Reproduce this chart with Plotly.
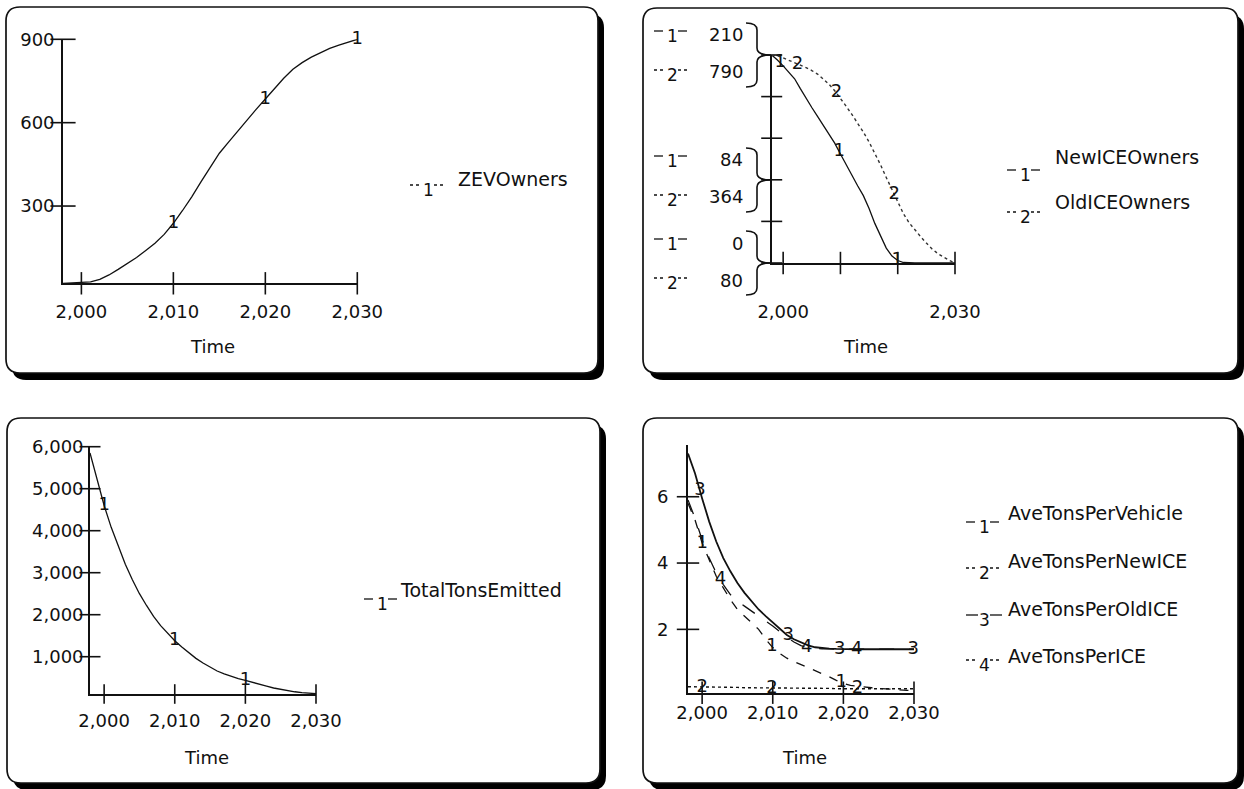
import numpy as np
import plotly.graph_objects as go

W, H = 1244, 789

# ---------------- data ----------------
years = list(range(1998, 2031))

zev_owners = [22, 23, 25, 27, 36, 52, 72, 92, 115, 140, 166, 198, 238, 284, 333, 387,
              441, 490, 530, 570, 610, 648, 685, 723, 760, 792, 816, 836, 852, 867, 879, 890, 900]

new_ice_owners = [210, 205, 199, 193, 186, 176, 166, 157, 148, 139, 130, 121, 110, 99, 89, 78,
                  68, 55, 40, 27, 15, 7, 2.5, 0.5, 0, 0, 0, 0, 0, 0, 0, 0, 0]

old_ice_owners = [790, 787, 780, 772, 763, 755, 747, 737, 725, 708, 690, 668, 643, 615, 587, 558,
                  527, 493, 455, 415, 372, 330, 287, 248, 217, 192, 170, 148, 128, 112, 99, 89, 80]

total_tons_emitted = [5850, 5200, 4600, 4080, 3620, 3200, 2830, 2500, 2220, 1960, 1740, 1550, 1380,
                      1230, 1090, 960, 850, 750, 660, 590, 530, 480, 435, 395, 350, 300, 255, 220,
                      190, 165, 145, 130, 120]

ave_tons_per_vehicle = [5.8, 5.3, 4.6, 4.1, 3.6, 3.25, 2.9, 2.6, 2.4, 2.23, 2.0, 1.7, 1.45, 1.27,
                        1.13, 1.03, 0.94, 0.85, 0.76, 0.67, 0.57, 0.46, 0.37, 0.31, 0.28, 0.26,
                        0.24, 0.22, 0.2, 0.18, 0.17, 0.16, 0.15]

ave_tons_per_new_ice = [0.27, 0.27, 0.26, 0.26, 0.26, 0.25, 0.25, 0.25, 0.24, 0.24, 0.24, 0.24,
                        0.23, 0.23, 0.23, 0.23, 0.22, 0.22, 0.22, 0.22, 0.22, 0.21, 0.21, 0.21,
                        0.21, 0.21, 0.21, 0.21, 0.21, 0.21, 0.21, 0.21, 0.21]

ave_tons_per_old_ice = [7.3, 6.7, 5.95, 5.25, 4.65, 4.15, 3.75, 3.4, 3.1, 2.85, 2.6, 2.4, 2.2, 2.0,
                        1.83, 1.7, 1.6, 1.52, 1.46, 1.43, 1.42, 1.41, 1.4, 1.4, 1.4, 1.4, 1.4,
                        1.4, 1.4, 1.4, 1.4, 1.4, 1.4]

ave_tons_per_ice = [5.9, 5.35, 4.7, 4.15, 3.7, 3.35, 3.05, 2.85, 2.7, 2.55, 2.42, 2.25, 2.1, 1.93,
                    1.76, 1.62, 1.51, 1.44, 1.42, 1.41, 1.41, 1.4, 1.4, 1.4, 1.4, 1.4, 1.4, 1.4,
                    1.4, 1.4, 1.4, 1.4, 1.4]

# axis scales / tick labels
x_range = [1998, 2030]
x_ticks = [2000, 2010, 2020, 2030]
x_ticktext = ["2,000", "2,010", "2,020", "2,030"]
p2_x_ticktext = ["2,000", "", "", "2,030"]

p1_y_range = [22, 900]
p1_y_ticks = [300, 600, 900]
p1_y_text = ["300", "600", "900"]

p2_new_range = [0, 210]
p2_old_range = [80, 790]
p2_scale_ticks = [0, 42, 84, 126, 168, 210]
p2_new_labels = [0, 84, 210]
p2_old_labels = [80, 364, 790]

p3_y_range = [112, 6000]
p3_y_ticks = [1000, 2000, 3000, 4000, 5000, 6000]
p3_y_text = ["1,000", "2,000", "3,000", "4,000", "5,000", "6,000"]

p4_y_range = [0.09, 7.56]
p4_y_ticks = [2, 4, 6]
p4_y_text = ["2", "4", "6"]

# where the series numbers sit along the curves (years)
p1_marks = [2010, 2020, 2030]
p2_marks_new = [1999.5, 2009.8, 2019.9]
p2_marks_old = [2002.5, 2009.3, 2019.4]
p3_marks = [2000, 2010, 2020]
p4_marks = {1: [2000, 2009.9, 2019.7], 2: [2000, 2009.9, 2022],
            3: [1999.7, 2012.2, 2019.5, 2029.9], 4: [2002.6, 2014.8, 2021.9]}

# ---------------- helpers ----------------
FONT = "DejaVu Sans"
INK = "#111111"


def X(px):
    return px / W


def Y(py):
    return 1 - py / H


def p(px, py):
    return f"{X(px):.5f},{Y(py):.5f}"


def rrect_path(x0, y0, x1, y1, r):
    return (f"M {p(x0 + r, y0)} L {p(x1 - r, y0)} Q {p(x1, y0)} {p(x1, y0 + r)} "
            f"L {p(x1, y1 - r)} Q {p(x1, y1)} {p(x1 - r, y1)} L {p(x0 + r, y1)} "
            f"Q {p(x0, y1)} {p(x0, y1 - r)} L {p(x0, y0 + r)} Q {p(x0, y0)} {p(x0 + r, y0)} Z")


def brace_path(ty, xl=746, xb=757, xt=771, half=32, r=7):
    yt, yb = ty - half, ty + half
    return (f"M {p(xl, yt)} Q {p(xb, yt)} {p(xb, yt + r)} L {p(xb, ty - r)} "
            f"Q {p(xb, ty)} {p(xt, ty)} Q {p(xb, ty)} {p(xb, ty + r)} "
            f"L {p(xb, yb - r)} Q {p(xb, yb)} {p(xl, yb)}")


shapes = []
annotations = []

# panel frames with heavy drop shadow
panels = [(6, 7, 598, 373), (643, 8, 1238, 373), (7, 418, 600, 783), (643, 418, 1238, 783)]
for (x0, y0, x1, y1) in panels:
    shapes.append(dict(type="path", xref="paper", yref="paper", layer="below",
                       path=rrect_path(x0 + 6, y0 + 7, x1 + 6, y1 + 7, 14),
                       fillcolor="black", line=dict(width=0)))
    shapes.append(dict(type="path", xref="paper", yref="paper", layer="below",
                       path=rrect_path(x0, y0, x1, y1, 14),
                       fillcolor="white", line=dict(color=INK, width=1.7)))


def key(num, cx, cy, dash, name=None, tx=None, ty=None, size=17):
    annotations.append(dict(x=X(cx), y=Y(cy), xref="paper", yref="paper", text=str(num),
                            showarrow=False, xanchor="center", yanchor="middle",
                            font=dict(family=FONT, size=size, color=INK)))
    for a, b in ((cx - 18, cx - 6), (cx + 6, cx + 18)):
        shapes.append(dict(type="line", xref="paper", yref="paper", layer="above",
                           x0=X(a), x1=X(b), y0=Y(cy - 5), y1=Y(cy - 5),
                           line=dict(color=INK, width=1.3, dash=dash)))
    if name:
        annotations.append(dict(x=X(tx), y=Y(ty), xref="paper", yref="paper", text=name,
                                showarrow=False, xanchor="left", yanchor="middle",
                                font=dict(family=FONT, size=19, color=INK)))


def time_label(cx, cy):
    annotations.append(dict(x=X(cx), y=Y(cy), xref="paper", yref="paper", text="Time",
                            showarrow=False, xanchor="center", yanchor="middle",
                            font=dict(family=FONT, size=18, color=INK)))


fig = go.Figure()


def line_trace(xs, ys, xa, ya, dash="solid", width=1.3, color=INK):
    fig.add_trace(go.Scatter(x=xs, y=ys, xaxis=xa, yaxis=ya, mode="lines",
                             line=dict(color=color, width=width, dash=dash),
                             hoverinfo="skip", cliponaxis=False))


def mark_trace(marks, ys, num, xa, ya):
    fig.add_trace(go.Scatter(x=marks, y=list(np.interp(marks, years, ys)), xaxis=xa, yaxis=ya,
                             mode="text", text=[str(num)] * len(marks),
                             textfont=dict(family=FONT, size=18, color=INK),
                             hoverinfo="skip", cliponaxis=False))


def cross_ticks(xa, ya, xs, ys, symbol, size):
    # "+"-style tick marks that cross the axis line
    fig.add_trace(go.Scatter(x=xs, y=ys, xaxis=xa, yaxis=ya, mode="markers",
                             marker=dict(symbol=symbol, size=size, color=INK,
                                         line=dict(color=INK, width=1.6)),
                             hoverinfo="skip", cliponaxis=False))


# ---- panel 1: ZEVOwners ----
line_trace(years, zev_owners, "x", "y")
mark_trace(p1_marks, zev_owners, 1, "x", "y")
cross_ticks("x", "y", [x_range[0]] * len(p1_y_ticks), p1_y_ticks, "line-ew", 18)
cross_ticks("x", "y", x_ticks, [p1_y_range[0]] * len(x_ticks), "line-ns", 16)
key(1, 428, 190, "dot", "ZEVOwners", 456, 179)
time_label(212, 346)

# ---- panel 2: NewICEOwners / OldICEOwners ----
line_trace(years, new_ice_owners, "x2", "y2", width=1.3)
line_trace(years, old_ice_owners, "x2", "y3", dash="dot", width=1.4, color="#333333")
mark_trace(p2_marks_new, new_ice_owners, 1, "x2", "y2")
mark_trace(p2_marks_old, old_ice_owners, 2, "x2", "y3")
cross_ticks("x2", "y2", [x_range[0]] * len(p2_scale_ticks), p2_scale_ticks, "line-ew", 15)
cross_ticks("x2", "y2", x_ticks, [p2_new_range[0]] * len(x_ticks), "line-ns", 16)
key(1, 1025, 175, "dash", "NewICEOwners", 1053, 157)
key(2, 1025, 217, "dot", "OldICEOwners", 1053, 202)
time_label(865, 347)

p2_tick_py = {0: 263, 84: 180, 210: 55}
for v_new, v_old in zip(p2_new_labels, p2_old_labels):
    ty = p2_tick_py[v_new]
    annotations.append(dict(x=X(745), y=v_new, xref="paper", yref="y2", text=str(v_new),
                            showarrow=False, xanchor="right", yanchor="middle", yshift=20,
                            font=dict(family=FONT, size=18, color=INK)))
    annotations.append(dict(x=X(745), y=v_old, xref="paper", yref="y3", text=str(v_old),
                            showarrow=False, xanchor="right", yanchor="middle", yshift=-17,
                            font=dict(family=FONT, size=18, color=INK)))
    key(1, 672, ty - 19, "dash")
    key(2, 672, ty + 20, "dot")
    shapes.append(dict(type="path", xref="paper", yref="paper", layer="above",
                       path=brace_path(ty), line=dict(color=INK, width=1.6)))

# ---- panel 3: TotalTonsEmitted ----
line_trace(years, total_tons_emitted, "x3", "y4")
mark_trace(p3_marks, total_tons_emitted, 1, "x3", "y4")
cross_ticks("x3", "y4", [x_range[0]] * len(p3_y_ticks), p3_y_ticks, "line-ew", 15)
cross_ticks("x3", "y4", x_ticks, [p3_y_range[0]] * len(x_ticks), "line-ns", 14)
key(1, 382, 604, "dash", "TotalTonsEmitted", 398, 590)
time_label(206, 757)

# ---- panel 4: average tons ----
p4_series = [(1, ave_tons_per_vehicle, "dash", 1.3, "AveTonsPerVehicle"),
             (2, ave_tons_per_new_ice, "dot", 1.4, "AveTonsPerNewICE"),
             (3, ave_tons_per_old_ice, "solid", 1.8, "AveTonsPerOldICE"),
             (4, ave_tons_per_ice, "longdash", 1.3, "AveTonsPerICE")]
for num, ys, dash, wdt, name in p4_series:
    line_trace(years, ys, "x4", "y5", dash=dash, width=wdt)
for num, ys, dash, wdt, name in p4_series:
    mark_trace(p4_marks[num], ys, num, "x4", "y5")
cross_ticks("x4", "y5", [x_range[0]] * len(p4_y_ticks), p4_y_ticks, "line-ew", 16)
cross_ticks("x4", "y5", x_ticks, [p4_y_range[0]] * len(x_ticks), "line-ns", 16)
legend_rows = [(527, 513), (573, 561), (620, 609), (665, 656)]
legend_dash = {1: "dash", 2: "dot", 3: "solid", 4: "dot"}
for (num, ys, dash, wdt, name), (ny, ty) in zip(p4_series, legend_rows):
    key(num, 984, ny, legend_dash[num], name, 1006, ty)
time_label(804, 757)

# ---------------- axes ----------------
tickfont = dict(family=FONT, size=18, color=INK)
base = dict(showgrid=False, zeroline=False, showline=True, linecolor=INK, linewidth=1.7,
            ticks="", tickfont=tickfont, fixedrange=True, automargin=False)

layout_axes = dict(
    xaxis=dict(base, domain=[X(63), X(357.3)], anchor="y", range=x_range, tickvals=x_ticks,
               ticktext=x_ticktext, ticklabelstandoff=11),
    yaxis=dict(base, domain=[Y(283.3), Y(39.3)], anchor="x", range=p1_y_range,
               tickvals=p1_y_ticks, ticktext=p1_y_text, ticklabelstandoff=3),
    xaxis2=dict(base, domain=[X(771.7), X(955)], anchor="y2", range=x_range, tickvals=x_ticks,
                ticktext=p2_x_ticktext, ticklabelstandoff=32),
    yaxis2=dict(base, domain=[Y(263), Y(55)], anchor="x2", range=p2_new_range,
                tickvals=p2_scale_ticks, ticktext=[""] * len(p2_scale_ticks)),
    yaxis3=dict(domain=[Y(263), Y(55)], anchor="x2", overlaying="y2", range=p2_old_range,
                visible=False, fixedrange=True, automargin=False),
    xaxis3=dict(base, domain=[X(90), X(316)], anchor="y4", range=x_range, tickvals=x_ticks,
                ticktext=x_ticktext, ticklabelstandoff=10),
    yaxis4=dict(base, domain=[Y(694), Y(446.7)], anchor="x3", range=p3_y_range,
                tickvals=p3_y_ticks, ticktext=p3_y_text, ticklabelstandoff=1),
    xaxis4=dict(base, domain=[X(688), X(914)], anchor="y5", range=x_range, tickvals=x_ticks,
                ticktext=x_ticktext, ticklabelstandoff=3),
    yaxis5=dict(base, domain=[Y(692.7), Y(445)], anchor="x4", range=p4_y_range,
                tickvals=p4_y_ticks, ticktext=p4_y_text, ticklabelstandoff=14),
)

fig.update_layout(
    template="none",
    width=W, height=H, autosize=False,
    margin=dict(l=0, r=0, t=0, b=0, pad=0, autoexpand=False),
    paper_bgcolor="white", plot_bgcolor="rgba(0,0,0,0)",
    showlegend=False, hovermode=False,
    font=dict(family=FONT, size=18, color=INK),
    shapes=shapes, annotations=annotations,
    **layout_axes,
)

post = ("document.documentElement.style.margin='0';document.body.style.margin='0';"
        "document.body.style.padding='0';document.body.style.overflow='hidden';")

fig.write_html("out.html", config={"displayModeBar": False}, post_script=post)
